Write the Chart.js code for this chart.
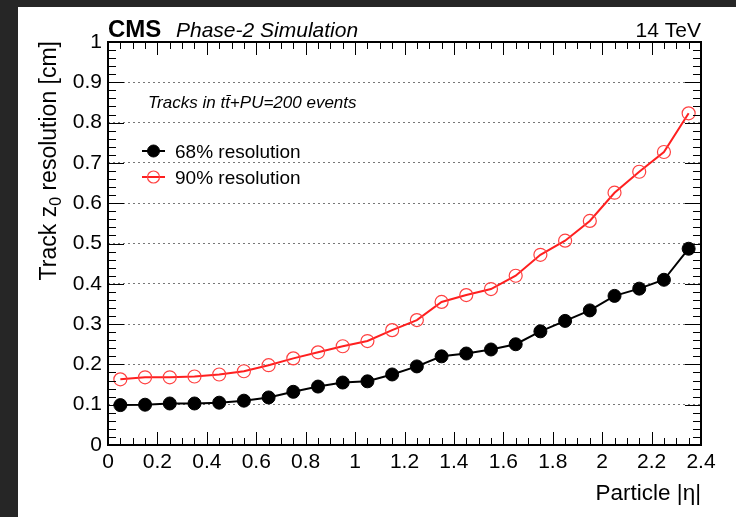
<!DOCTYPE html>
<html>
<head>
<meta charset="utf-8">
<script src="https://cdn.jsdelivr.net/npm/chart.js@4.4.1/dist/chart.umd.min.js"></script>
<style>
  html, body { margin: 0; padding: 0; background: #262626; }
  #wrap { width: 736px; height: 517px; }
</style>
</head>
<body>
<div id="wrap"><canvas id="resChart" width="736" height="517"></canvas></div>
<script>
// Data
const etaBins = [0.05, 0.15, 0.25, 0.35, 0.45, 0.55, 0.65, 0.75, 0.85, 0.95, 1.05, 1.15,
                 1.25, 1.35, 1.45, 1.55, 1.65, 1.75, 1.85, 1.95, 2.05, 2.15, 2.25, 2.35];
const res68 = [0.099, 0.100, 0.103, 0.103, 0.105, 0.110, 0.118, 0.132, 0.145, 0.155, 0.158, 0.175,
               0.195, 0.220, 0.227, 0.237, 0.250, 0.282, 0.308, 0.334, 0.370, 0.388, 0.410, 0.487];
const res90 = [0.163, 0.168, 0.168, 0.170, 0.175, 0.183, 0.198, 0.215, 0.230, 0.245, 0.258, 0.285,
               0.310, 0.355, 0.372, 0.387, 0.420, 0.472, 0.507, 0.556, 0.626, 0.678, 0.727, 0.823];
const seriesLabels = ['68% resolution', '90% resolution'];

const FONT = '"Liberation Sans", Arial, Helvetica, sans-serif';

// Background, frame, ROOT-style inner ticks and all the labels
const rootStyle = {
    id: 'rootStyle',
    beforeDraw(chart) {
        const ctx = chart.ctx;
        ctx.save();
        ctx.fillStyle = '#262626';
        ctx.fillRect(0, 0, chart.width, chart.height);
        ctx.fillStyle = '#ffffff';
        ctx.fillRect(18, 7, chart.width - 18, chart.height - 7);
        ctx.restore();
    },
    afterDraw(chart) {
        const ctx = chart.ctx;
        const a = chart.chartArea;
        const xs = chart.scales.x;
        const ys = chart.scales.y;
        ctx.save();

        // inner ticks
        ctx.strokeStyle = '#000';
        ctx.lineWidth = 1;
        ctx.beginPath();
        for (let i = 0; i <= 50; i++) {
            const v = i * 0.02;
            const y = Math.round(ys.getPixelForValue(v)) + 0.5;
            const len = (i % 5 === 0) ? 16 : 8;
            ctx.moveTo(a.left, y); ctx.lineTo(a.left + len, y);
            ctx.moveTo(a.right, y); ctx.lineTo(a.right - len, y);
        }
        for (let i = 0; i <= 48; i++) {
            const v = i * 0.05;
            const x = Math.round(xs.getPixelForValue(v)) + 0.5;
            const len = (i % 4 === 0) ? 13 : 7;
            ctx.moveTo(x, a.bottom); ctx.lineTo(x, a.bottom - len);
            ctx.moveTo(x, a.top); ctx.lineTo(x, a.top + len);
        }
        ctx.stroke();

        // frame
        ctx.lineWidth = 2;
        ctx.strokeRect(a.left, a.top, a.right - a.left, a.bottom - a.top);

        // header
        ctx.fillStyle = '#000';
        ctx.textBaseline = 'alphabetic';
        ctx.textAlign = 'left';
        ctx.font = 'bold 24px ' + FONT;
        ctx.fillText('CMS', a.left, 37);
        ctx.font = 'italic 21px ' + FONT;
        ctx.fillText('Phase-2 Simulation', 176, 37);
        ctx.textAlign = 'right';
        ctx.font = '21px ' + FONT;
        ctx.fillText('14 TeV', a.right, 37);

        // annotation
        ctx.textAlign = 'left';
        ctx.font = 'italic 17px ' + FONT;
        ctx.fillText('Tracks in t\u0074\u0304+PU=200 events', 148, 108);

        // legend
        const items = chart.data.datasets;
        const legY = [151, 177];
        items.forEach((ds, i) => {
            const y = legY[i];
            ctx.strokeStyle = ds.borderColor;
            ctx.lineWidth = 2;
            ctx.beginPath();
            ctx.moveTo(142, y); ctx.lineTo(165, y);
            ctx.stroke();
            ctx.beginPath();
            ctx.arc(153.5, y, 6, 0, Math.PI * 2);
            ctx.fillStyle = ds.pointBackgroundColor;
            ctx.fill();
            ctx.lineWidth = ds.pointBorderWidth;
            ctx.strokeStyle = ds.pointBorderColor;
            ctx.stroke();
            ctx.fillStyle = '#000';
            ctx.font = '19px ' + FONT;
            ctx.fillText(ds.label, 175, y + 7);
        });

        // x title
        ctx.textAlign = 'right';
        ctx.font = '22.5px ' + FONT;
        ctx.fillText('Particle |\u03b7|', a.right, 500);

        // y title, right aligned at top of axis, with subscript
        ctx.translate(56, a.top - 1);
        ctx.rotate(-Math.PI / 2);
        ctx.textAlign = 'left';
        const big = '23px ' + FONT, small = '16px ' + FONT;
        ctx.font = big;
        const w1 = ctx.measureText('Track z').width;
        const w3 = ctx.measureText(' resolution [cm]').width;
        ctx.font = small;
        const w2 = ctx.measureText('0').width;
        let x0 = -(w1 + w2 + w3);
        ctx.font = big;
        ctx.fillText('Track z', x0, 0);
        ctx.font = small;
        ctx.fillText('0', x0 + w1, 5);
        ctx.font = big;
        ctx.fillText(' resolution [cm]', x0 + w1 + w2, 0);

        ctx.restore();
    }
};

const ctx = document.getElementById('resChart').getContext('2d');
new Chart(ctx, {
    type: 'line',
    data: {
        datasets: [{
            label: seriesLabels[0],
            data: etaBins.map((x, i) => ({ x: x, y: res68[i] })),
            borderColor: '#000000',
            borderWidth: 2,
            pointRadius: 6.5,
            pointBackgroundColor: '#000000',
            pointBorderColor: '#000000',
            pointBorderWidth: 1,
            tension: 0
        }, {
            label: seriesLabels[1],
            data: etaBins.map((x, i) => ({ x: x, y: res90[i] })),
            borderColor: '#ff1f1f',
            borderWidth: 2,
            pointRadius: 6.5,
            pointBackgroundColor: 'rgba(255,255,255,0)',
            pointBorderColor: '#ff4040',
            pointBorderWidth: 1.2,
            tension: 0
        }]
    },
    options: {
        responsive: false,
        animation: false,
        devicePixelRatio: 1,
        layout: { padding: { left: 0, right: 35, top: 42, bottom: 0 } },
        plugins: {
            legend: { display: false },
            tooltip: { enabled: false }
        },
        scales: {
            x: {
                type: 'linear',
                min: 0,
                max: 2.4,
                afterFit: (s) => { s.height = 72; },
                grid: { display: false, drawTicks: false },
                border: { display: false },
                ticks: {
                    stepSize: 0.2,
                    padding: 5,
                    color: '#000',
                    font: { family: FONT, size: 21 },
                    maxRotation: 0,
                    autoSkip: false,
                    callback: (v) => String(+v.toFixed(1))
                }
            },
            y: {
                min: 0,
                max: 1,
                afterFit: (s) => { s.width = 108; },
                grid: {
                    drawTicks: false,
                    color: (c) => (c.tick && (c.tick.value <= 0.001 || c.tick.value >= 0.999)) ? 'rgba(0,0,0,0)' : '#777',
                    lineWidth: 1
                },
                border: { display: false, dash: [2, 3] },
                ticks: {
                    stepSize: 0.1,
                    padding: 6,
                    color: '#000',
                    font: { family: FONT, size: 21 },
                    callback: (v) => String(+v.toFixed(1))
                }
            }
        }
    },
    plugins: [rootStyle]
});
</script>
</body>
</html>
